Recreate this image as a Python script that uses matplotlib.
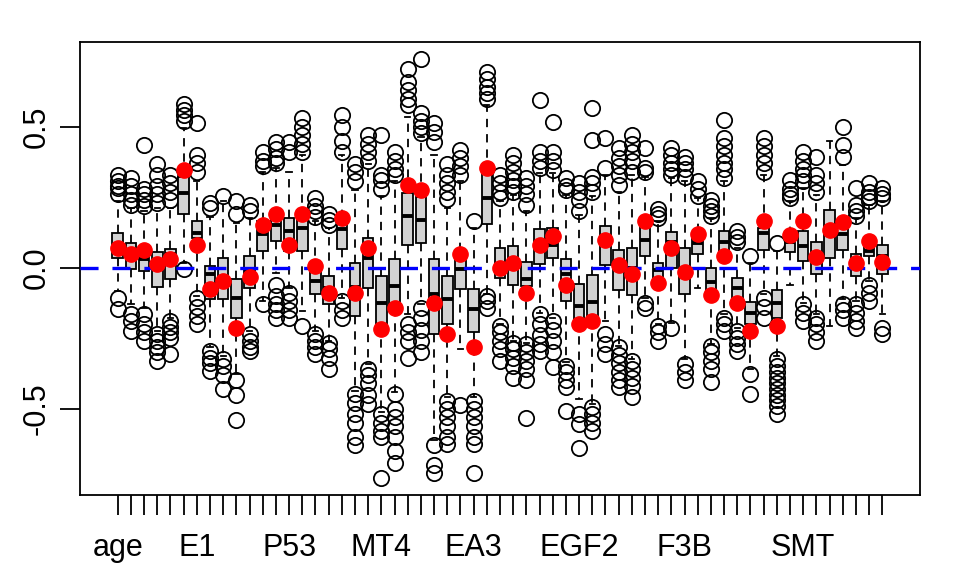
import matplotlib
matplotlib.use('Agg')
import matplotlib.pyplot as plt

plt.rcParams['font.family'] = ['Liberation Sans', 'DejaVu Sans']
plt.rcParams['lines.scale_dashes'] = False

# boxplot summaries, one entry per variable (59 of them)
q1 = [0.034, -0.006, -0.012, -0.068, -0.041, 0.189, 0.105, -0.111, -0.111, -0.178,
      -0.071, 0.058, 0.094, 0.058, 0.058, -0.094, -0.13, 0.065, -0.171, -0.071,
      -0.2, -0.142, 0.082, 0.088, -0.236, -0.2, -0.077, -0.23, 0.155, -0.038,
      -0.062, -0.065, 0.013, 0.035, -0.118, -0.189, -0.177, 0.009, -0.081, -0.097,
      0.041, -0.048, 0.0, -0.095, 0.047, -0.095, 0.047, -0.118, -0.2, 0.064,
      -0.177, 0.056, 0.023, -0.022, 0.035, 0.064, -0.03, 0.041, -0.022]
med = [0.075, 0.048, 0.03, 0.023, 0.048, 0.264, 0.123, -0.023, -0.048, -0.107,
       -0.012, 0.118, 0.153, 0.129, 0.141, -0.048, -0.071, 0.136, -0.07, 0.035,
       -0.124, -0.065, 0.182, 0.17, -0.095, -0.112, -0.004, -0.148, 0.247, 0.0,
       0.02, -0.042, 0.09, 0.082, -0.023, -0.136, -0.121, 0.11, 0.0, 0.0,
       0.097, -0.01, 0.09, -0.02, 0.088, -0.05, 0.09, -0.071, -0.16, 0.123,
       -0.124, 0.09, 0.076, 0.04, 0.12, 0.12, 0.01, 0.06, 0.04]
q3 = [0.122, 0.088, 0.048, 0.056, 0.065, 0.323, 0.164, 0.005, 0.033, -0.041,
      0.04, 0.164, 0.176, 0.176, 0.176, -0.012, -0.03, 0.176, 0.017, 0.105,
      -0.03, 0.03, 0.264, 0.249, 0.029, -0.03, 0.058, -0.077, 0.335, 0.07,
      0.076, 0.02, 0.138, 0.141, 0.032, -0.057, -0.027, 0.147, 0.064, 0.07,
      0.147, 0.015, 0.127, 0.068, 0.127, 0.0, 0.129, -0.038, -0.121, 0.141,
      -0.081, 0.117, 0.129, 0.09, 0.203, 0.147, 0.047, 0.08, 0.08]
wlo = [-0.083, -0.129, -0.142, -0.224, -0.177, 0.017, -0.1, -0.283, -0.313, -0.377,
       -0.224, -0.118, -0.02, -0.071, -0.154, -0.224, -0.26, -0.107, -0.436, -0.341,
       -0.513, -0.442, -0.165, -0.129, -0.613, -0.46, -0.289, -0.46, -0.095, -0.2,
       -0.26, -0.266, -0.16, -0.177, -0.336, -0.466, -0.483, -0.189, -0.277, -0.324,
       -0.107, -0.2, -0.195, -0.324, -0.071, -0.271, -0.165, -0.213, -0.36, -0.095,
       -0.313, -0.06, -0.124, -0.165, -0.207, -0.112, -0.118, -0.048, -0.165]
whi = [0.235, 0.211, 0.2, 0.21, 0.211, 0.494, 0.306, 0.18, 0.235, 0.158,
       0.176, 0.341, 0.353, 0.341, 0.40, 0.164, 0.141, 0.40, 0.277, 0.366,
       0.253, 0.306, 0.535, 0.465, 0.40, 0.211, 0.306, 0.141, 0.577, 0.235,
       0.259, 0.2, 0.335, 0.335, 0.259, 0.188, 0.253, 0.33, 0.27, 0.33,
       0.32, 0.164, 0.317, 0.306, 0.247, 0.176, 0.306, 0.07, 0.017, 0.33,
       0.058, 0.235, 0.282, 0.259, 0.449, 0.365, 0.176, 0.223, 0.235]
outliers = [
    [0.33, 0.306, 0.29, 0.281, 0.26, -0.108, -0.147],
    [0.317, 0.29, 0.26, 0.24, 0.224, -0.165, -0.19, -0.224],
    [0.436, 0.28, 0.26, 0.24, 0.22, -0.165, -0.2, -0.23, -0.26],
    [0.366, 0.33, 0.29, 0.26, 0.23, -0.235, -0.26, -0.28, -0.30, -0.33],
    [0.33, 0.3, 0.27, 0.24, -0.19, -0.21, -0.23, -0.25, -0.306],
    [0.58, 0.56, 0.54, 0.52, -0.006],
    [0.512, 0.40, 0.37, 0.34, -0.107, -0.14, -0.17, -0.2],
    [0.229, 0.21, -0.295, -0.32, -0.34, -0.366],
    [0.253, -0.323, -0.35, -0.38, -0.43],
    [0.235, 0.19, -0.40, -0.45, -0.54],
    [0.224, 0.2, -0.235, -0.26, -0.28, -0.295],
    [0.41, 0.38, 0.36, -0.13],
    [0.447, 0.42, 0.39, 0.37, -0.06, -0.1, -0.13, -0.15, -0.177],
    [0.447, 0.41, -0.09, -0.12, -0.15, -0.177],
    [0.53, 0.5, 0.47, 0.44, 0.41, -0.207],
    [0.247, 0.22, 0.2, 0.18, -0.235, -0.26, -0.28, -0.306],
    [0.19, 0.17, 0.15, -0.266, -0.29, -0.32, -0.359],
    [0.542, 0.5, 0.45, 0.41, -0.118, -0.15, -0.177],
    [0.366, 0.34, 0.306, -0.447, -0.48, -0.52, -0.55, -0.6, -0.63],
    [0.47, 0.44, 0.41, 0.38, -0.359, -0.38, -0.41, -0.45, -0.482],
    [0.47, 0.33, 0.31, 0.28, -0.518, -0.55, -0.58, -0.60, -0.747],
    [0.41, 0.38, 0.35, 0.33, -0.447, -0.5, -0.53, -0.56, -0.6, -0.65, -0.694],
    [0.706, 0.66, 0.63, 0.6, 0.577, -0.2, -0.23, -0.26, -0.319],
    [0.741, 0.547, 0.52, 0.5, 0.476, -0.142, -0.18, -0.22, -0.26, -0.30],
    [0.512, 0.48, 0.447, -0.63, -0.70, -0.73],
    [0.366, 0.33, 0.3, 0.27, 0.242, -0.472, -0.5, -0.53, -0.56, -0.6, -0.624],
    [0.419, 0.39, 0.36, 0.33, -0.489],
    [0.164, -0.472, -0.5, -0.53, -0.56, -0.6, -0.624, -0.73],
    [0.694, 0.67, 0.64, 0.62, 0.60, -0.1, -0.12, -0.142],
    [0.33, 0.3, 0.27, 0.247, -0.207, -0.23, -0.26, -0.29, -0.33],
    [0.40, 0.37, 0.34, 0.31, 0.29, 0.27, -0.266, -0.29, -0.32, -0.35, -0.39],
    [0.317, 0.29, 0.26, 0.224, -0.27, -0.3, -0.33, -0.36, -0.40, -0.535],
    [0.594, 0.41, 0.38, 0.353, -0.165, -0.2, -0.24, -0.27, -0.295],
    [0.518, 0.41, 0.38, 0.348, -0.19, -0.22, -0.26, -0.3, -0.354],
    [0.317, 0.29, 0.276, -0.348, -0.37, -0.4, -0.425, -0.507],
    [0.30, 0.27, 0.24, 0.2, -0.518, -0.553, -0.641],
    [0.565, 0.453, 0.323, 0.3, 0.27, -0.495, -0.52, -0.55, -0.578],
    [0.459, 0.355, -0.235, -0.27, -0.307],
    [0.423, 0.39, 0.36, 0.33, 0.294, -0.283, -0.31, -0.34, -0.37, -0.4, -0.425],
    [0.47, 0.44, 0.41, 0.38, 0.341, -0.33, -0.36, -0.39, -0.42, -0.46],
    [0.423, 0.353, 0.34, -0.124, -0.142],
    [0.207, 0.19, 0.175, -0.207, -0.23, -0.26],
    [0.423, 0.4, 0.37, 0.35, 0.33, -0.213],
    [0.394, 0.37, 0.35, 0.323, -0.342, -0.37, -0.40],
    [0.306, 0.28, 0.253],
    [0.241, 0.22, 0.2, 0.182, -0.277, -0.3, -0.33, -0.36, -0.407],
    [0.524, 0.459, 0.43, 0.4, 0.37, 0.35, 0.317, -0.177, -0.2, -0.224],
    [0.129, 0.11, 0.09, -0.224, -0.25, -0.27, -0.295],
    [0.041, -0.377, -0.448],
    [0.459, 0.43, 0.4, 0.37, 0.341, -0.107, -0.14, -0.177],
    [0.088, -0.324, -0.35, -0.37, -0.39, -0.41, -0.43, -0.45, -0.47, -0.49, -0.519],
    [0.312, 0.28, 0.26, 0.247],
    [0.41, 0.38, 0.35, 0.33, 0.306, -0.13, -0.16, -0.189],
    [0.394, 0.33, 0.3, 0.27, -0.177, -0.2, -0.23, -0.26],
    [],
    [0.5, 0.435, 0.394, -0.13, -0.15, -0.177],
    [0.282, 0.223, 0.2, 0.182, -0.13, -0.16, -0.19, -0.213],
    [0.30, 0.27, 0.25, 0.235, -0.06, -0.09, -0.118],
    [0.282, 0.26, 0.247, -0.215, -0.236],
]
# red points (true values)
truth = [0.069, 0.048, 0.062, 0.013, 0.03, 0.348, 0.079, -0.076, -0.048, -0.213,
         -0.034, 0.153, 0.19, 0.079, 0.189, 0.005, -0.09, 0.176, -0.09, 0.07,
         -0.218, -0.142, 0.292, 0.276, -0.124, -0.236, 0.05, -0.281, 0.353, 0.0,
         0.017, -0.089, 0.079, 0.111, -0.06, -0.2, -0.191, 0.097, 0.011, -0.021,
         0.164, -0.054, 0.068, -0.015, 0.12, -0.098, 0.041, -0.124, -0.224, 0.164,
         -0.207, 0.117, 0.164, 0.038, 0.133, 0.161, 0.017, 0.096, 0.021]
# only the labels R managed to fit under the axis
label_pos = [1, 7, 14, 21, 28, 36, 44, 53]
label_txt = ['age', 'E1', 'P53', 'MT4', 'EA3', 'EGF2', 'F3B', 'SMT']

n = len(med)
pos = list(range(1, n + 1))
stats = [dict(med=med[i], q1=q1[i], q3=q3[i], whislo=wlo[i], whishi=whi[i],
              fliers=outliers[i]) for i in range(n)]

fig = plt.figure(figsize=(9.6, 5.76), dpi=100)
ax = fig.add_axes([80/960, 81/576, 840/960, 453/576])

lw = 1.3
ax.bxp(stats, positions=pos, widths=0.8, capwidths=0.4, patch_artist=True,
       manage_ticks=False,
       boxprops=dict(facecolor='#d3d3d3', edgecolor='black', linewidth=lw),
       medianprops=dict(color='black', linewidth=2.8),
       whiskerprops=dict(color='black', linewidth=lw, linestyle=(0, (6, 5))),
       capprops=dict(color='black', linewidth=lw),
       flierprops=dict(marker='o', markerfacecolor='none', markeredgecolor='black',
                       markersize=11, markeredgewidth=lw))
ax.axhline(0, color='#0000ff', linewidth=2.4, linestyle=(0, (13, 10)), zorder=3)
ax.plot(pos, truth, 'o', color='#ff0000', markersize=11, zorder=4)

allv = [v for o in outliers for v in o] + wlo + whi + truth
lo, hi = min(allv), max(allv)
ax.set_ylim(lo - 0.04*(hi - lo), hi + 0.04*(hi - lo))
ax.set_xlim(0.5 - 0.04*n, n + 0.5 + 0.04*n)

labs = [''] * n
for p, t in zip(label_pos, label_txt):
    labs[p - 1] = t
ax.set_xticks(pos)
ax.set_xticklabels(labs)
ax.set_yticks([-0.5, 0.0, 0.5])
ax.set_yticklabels(['-0.5', '0.0', '0.5'], rotation=90, va='center')
ax.tick_params(axis='both', length=14.4, width=lw, labelsize=22)
ax.tick_params(axis='x', pad=13)
ax.tick_params(axis='y', pad=6)
for s in ax.spines.values():
    s.set_linewidth(lw)

# y label sits mostly outside the figure, as in the original export
fig.text(1/960, 1 - 197/576, 'Estimated coefficients', rotation=90,
         ha='right', va='center', fontsize=22)

fig.savefig('out.png', dpi=100)
